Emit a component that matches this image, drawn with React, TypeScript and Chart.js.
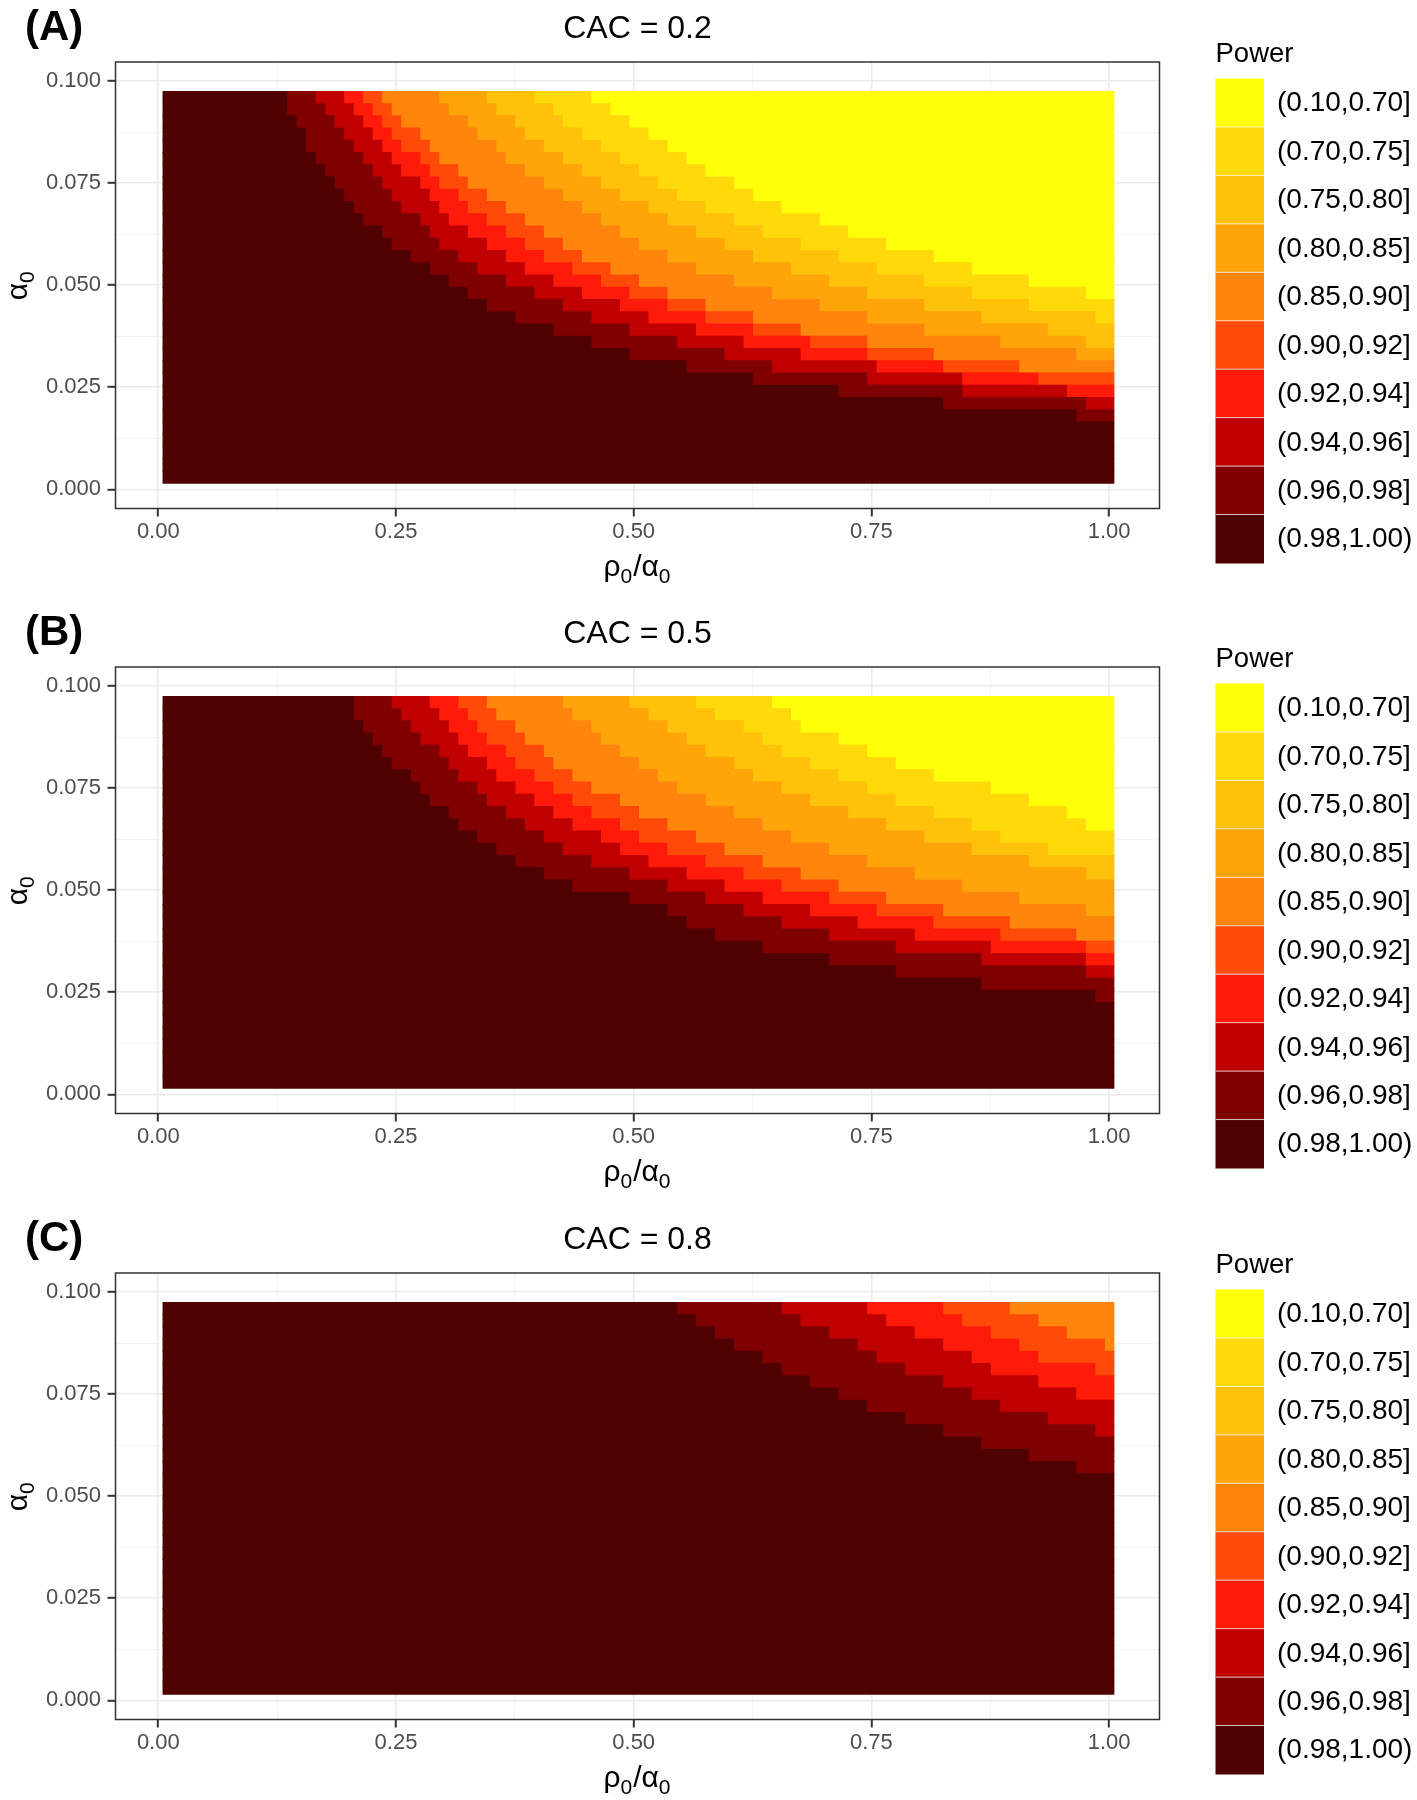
import React, { useEffect, useRef } from "react";
import { Chart, registerables } from "chart.js";

Chart.register(...registerables);

const FONT = "'Liberation Sans', Arial, Helvetica, sans-serif";

// x categories: rho0 / alpha0
const RHO_RATIO = [
  0.01, 0.02, 0.03, 0.04, 0.05, 0.06, 0.07, 0.08, 0.09, 0.1,
  0.11, 0.12, 0.13, 0.14, 0.15, 0.16, 0.17, 0.18, 0.19, 0.2,
  0.21, 0.22, 0.23, 0.24, 0.25, 0.26, 0.27, 0.28, 0.29, 0.3,
  0.31, 0.32, 0.33, 0.34, 0.35, 0.36, 0.37, 0.38, 0.39, 0.4,
  0.41, 0.42, 0.43, 0.44, 0.45, 0.46, 0.47, 0.48, 0.49, 0.5,
  0.51, 0.52, 0.53, 0.54, 0.55, 0.56, 0.57, 0.58, 0.59, 0.6,
  0.61, 0.62, 0.63, 0.64, 0.65, 0.66, 0.67, 0.68, 0.69, 0.7,
  0.71, 0.72, 0.73, 0.74, 0.75, 0.76, 0.77, 0.78, 0.79, 0.8,
  0.81, 0.82, 0.83, 0.84, 0.85, 0.86, 0.87, 0.88, 0.89, 0.9,
  0.91, 0.92, 0.93, 0.94, 0.95, 0.96, 0.97, 0.98, 0.99, 1.0,
];

// y categories: alpha0
const ALPHA0 = [
  0.003, 0.006, 0.009, 0.012, 0.015, 0.018, 0.021, 0.024, 0.027, 0.03,
  0.033, 0.036, 0.039, 0.042, 0.045, 0.048, 0.051, 0.054, 0.057, 0.06,
  0.063, 0.066, 0.069, 0.072, 0.075, 0.078, 0.081, 0.084, 0.087, 0.09,
  0.093, 0.096,
];

// Power classes, darkest (highest power) first
const POWER_BINS = [
  "(0.98,1.00)", "(0.96,0.98]", "(0.94,0.96]", "(0.92,0.94]", "(0.90,0.92]",
  "(0.85,0.90]", "(0.80,0.85]", "(0.75,0.80]", "(0.70,0.75]", "(0.10,0.70]",
];
const BIN_COLORS = [
  "#4F0000", "#800000", "#C00000", "#FF1A0A", "#FF4A08",
  "#FF850C", "#FFA50A", "#FFC10A", "#FFD90A", "#FFFF0A",
];

const X_TICKS = [0, 0.25, 0.5, 0.75, 1];
const X_TICK_LABELS = ["0.00", "0.25", "0.50", "0.75", "1.00"];
const X_MINOR = [0.125, 0.375, 0.625, 0.875];
const Y_TICKS = [0, 0.025, 0.05, 0.075, 0.1];
const Y_TICK_LABELS = ["0.000", "0.025", "0.050", "0.075", "0.100"];
const Y_MINOR = [0.0125, 0.0375, 0.0625, 0.0875];

// For each alpha0 row (bottom to top): number of x cells (from the left)
// whose power class is darker than class k, for k = 1..9
const EDGES_CAC02 = [
  [100, 100, 100, 100, 100, 100, 100, 100, 100],
  [100, 100, 100, 100, 100, 100, 100, 100, 100],
  [100, 100, 100, 100, 100, 100, 100, 100, 100],
  [100, 100, 100, 100, 100, 100, 100, 100, 100],
  [100, 100, 100, 100, 100, 100, 100, 100, 100],
  [96, 100, 100, 100, 100, 100, 100, 100, 100],
  [82, 97, 100, 100, 100, 100, 100, 100, 100],
  [71, 84, 95, 100, 100, 100, 100, 100, 100],
  [62, 74, 84, 92, 100, 100, 100, 100, 100],
  [55, 64, 75, 82, 90, 100, 100, 100, 100],
  [49, 59, 67, 74, 81, 96, 100, 100, 100],
  [45, 54, 61, 68, 74, 88, 97, 100, 100],
  [41, 49, 56, 62, 67, 80, 93, 100, 100],
  [37, 45, 51, 57, 62, 74, 86, 98, 100],
  [34, 42, 48, 53, 57, 69, 80, 91, 100],
  [32, 39, 44, 49, 53, 64, 74, 85, 97],
  [30, 36, 41, 46, 50, 60, 70, 80, 91],
  [28, 33, 38, 43, 47, 56, 66, 75, 85],
  [26, 31, 36, 40, 44, 53, 62, 71, 81],
  [24, 29, 34, 38, 42, 50, 59, 67, 76],
  [23, 28, 32, 36, 40, 48, 56, 63, 72],
  [21, 27, 30, 34, 38, 46, 53, 60, 69],
  [20, 25, 29, 32, 36, 44, 51, 57, 65],
  [19, 24, 28, 31, 34, 42, 48, 54, 62],
  [18, 23, 27, 29, 32, 40, 46, 52, 60],
  [17, 22, 25, 28, 31, 38, 44, 50, 57],
  [16, 21, 24, 27, 29, 36, 42, 48, 55],
  [15, 20, 23, 25, 28, 35, 40, 46, 53],
  [15, 19, 22, 24, 27, 33, 38, 44, 51],
  [14, 18, 21, 23, 25, 32, 37, 42, 49],
  [13, 17, 20, 22, 24, 30, 35, 41, 47],
  [13, 16, 19, 21, 23, 29, 34, 39, 45],
];

const EDGES_CAC05 = [
  [100, 100, 100, 100, 100, 100, 100, 100, 100],
  [100, 100, 100, 100, 100, 100, 100, 100, 100],
  [100, 100, 100, 100, 100, 100, 100, 100, 100],
  [100, 100, 100, 100, 100, 100, 100, 100, 100],
  [100, 100, 100, 100, 100, 100, 100, 100, 100],
  [100, 100, 100, 100, 100, 100, 100, 100, 100],
  [100, 100, 100, 100, 100, 100, 100, 100, 100],
  [98, 100, 100, 100, 100, 100, 100, 100, 100],
  [86, 100, 100, 100, 100, 100, 100, 100, 100],
  [77, 97, 100, 100, 100, 100, 100, 100, 100],
  [70, 86, 97, 100, 100, 100, 100, 100, 100],
  [63, 77, 87, 97, 100, 100, 100, 100, 100],
  [58, 70, 79, 88, 96, 100, 100, 100, 100],
  [55, 65, 73, 81, 89, 100, 100, 100, 100],
  [53, 61, 68, 75, 82, 97, 100, 100, 100],
  [49, 57, 63, 70, 76, 90, 100, 100, 100],
  [43, 53, 59, 65, 71, 84, 100, 100, 100],
  [40, 49, 55, 61, 67, 79, 97, 100, 100],
  [37, 45, 51, 57, 63, 74, 91, 100, 100],
  [35, 42, 48, 53, 59, 70, 85, 93, 100],
  [33, 40, 46, 50, 56, 66, 80, 88, 100],
  [31, 38, 43, 48, 53, 63, 76, 85, 97],
  [30, 36, 41, 45, 50, 60, 72, 81, 95],
  [28, 34, 39, 43, 48, 57, 68, 77, 91],
  [27, 33, 37, 41, 45, 54, 65, 74, 87],
  [26, 31, 35, 39, 43, 52, 62, 71, 81],
  [24, 30, 34, 37, 41, 50, 60, 68, 77],
  [23, 29, 32, 36, 40, 48, 57, 65, 74],
  [22, 27, 31, 34, 38, 46, 55, 63, 71],
  [21, 26, 30, 33, 37, 45, 53, 61, 67],
  [20, 25, 29, 32, 35, 43, 51, 58, 66],
  [20, 24, 28, 31, 34, 42, 49, 56, 64],
];

const EDGES_CAC08 = [
  [100, 100, 100, 100, 100, 100, 100, 100, 100],
  [100, 100, 100, 100, 100, 100, 100, 100, 100],
  [100, 100, 100, 100, 100, 100, 100, 100, 100],
  [100, 100, 100, 100, 100, 100, 100, 100, 100],
  [100, 100, 100, 100, 100, 100, 100, 100, 100],
  [100, 100, 100, 100, 100, 100, 100, 100, 100],
  [100, 100, 100, 100, 100, 100, 100, 100, 100],
  [100, 100, 100, 100, 100, 100, 100, 100, 100],
  [100, 100, 100, 100, 100, 100, 100, 100, 100],
  [100, 100, 100, 100, 100, 100, 100, 100, 100],
  [100, 100, 100, 100, 100, 100, 100, 100, 100],
  [100, 100, 100, 100, 100, 100, 100, 100, 100],
  [100, 100, 100, 100, 100, 100, 100, 100, 100],
  [100, 100, 100, 100, 100, 100, 100, 100, 100],
  [100, 100, 100, 100, 100, 100, 100, 100, 100],
  [100, 100, 100, 100, 100, 100, 100, 100, 100],
  [100, 100, 100, 100, 100, 100, 100, 100, 100],
  [100, 100, 100, 100, 100, 100, 100, 100, 100],
  [96, 100, 100, 100, 100, 100, 100, 100, 100],
  [91, 100, 100, 100, 100, 100, 100, 100, 100],
  [86, 100, 100, 100, 100, 100, 100, 100, 100],
  [82, 98, 100, 100, 100, 100, 100, 100, 100],
  [78, 93, 100, 100, 100, 100, 100, 100, 100],
  [74, 88, 100, 100, 100, 100, 100, 100, 100],
  [71, 85, 96, 100, 100, 100, 100, 100, 100],
  [68, 82, 92, 100, 100, 100, 100, 100, 100],
  [65, 78, 87, 98, 100, 100, 100, 100, 100],
  [63, 75, 85, 92, 100, 100, 100, 100, 100],
  [60, 73, 82, 90, 99, 100, 100, 100, 100],
  [58, 70, 79, 87, 95, 100, 100, 100, 100],
  [56, 67, 76, 84, 92, 100, 100, 100, 100],
  [54, 65, 74, 82, 89, 100, 100, 100, 100],
];

const PANEL_TAGS = ["(A)", "(B)", "(C)"];
const PANEL_TITLES = ["CAC = 0.2", "CAC = 0.5", "CAC = 0.8"];
const PANEL_EDGES = [EDGES_CAC02, EDGES_CAC05, EDGES_CAC08];

const W = 1417;
const CANVAS_TOPS = [0, 605, 1211];
const CANVAS_HEIGHTS = [605, 606, 589];
const PLOT_LEFT = 115.5;
const PLOT_RIGHT = 1159.5;
const PLOT_TOP = 62;
const PLOT_BOTTOM = 508.5;

const near = (a: number, b: number) => Math.abs(a - b) < 1e-9;

function buildDatasets(edges: number[][]) {
  const halfX = (RHO_RATIO[1] - RHO_RATIO[0]) / 2;
  const n = RHO_RATIO.length;
  return POWER_BINS.map((label, d) => {
    const data: any[] = [];
    edges.forEach((row, r) => {
      const start = d === 0 ? 0 : row[d - 1];
      const end = d === POWER_BINS.length - 1 ? n : row[d];
      if (end > start) {
        data.push({ y: ALPHA0[r], x: [RHO_RATIO[start] - halfX, RHO_RATIO[end - 1] + halfX] });
      }
    });
    return {
      label,
      data,
      backgroundColor: BIN_COLORS[d],
      borderWidth: 0,
      grouped: false,
      barPercentage: 1,
      categoryPercentage: 1,
      inflateAmount: 0.5,
    };
  });
}

function drawRun(ctx: CanvasRenderingContext2D, parts: { t: string; sub?: boolean }[], cx: number, baseY: number) {
  const big = `30px ${FONT}`;
  const small = `21px ${FONT}`;
  let total = 0;
  const widths = parts.map((p) => {
    ctx.font = p.sub ? small : big;
    const w = ctx.measureText(p.t).width + (p.sub ? 1 : 0);
    total += w;
    return w;
  });
  let x = cx - total / 2;
  ctx.textAlign = "left";
  ctx.textBaseline = "alphabetic";
  parts.forEach((p, i) => {
    ctx.font = p.sub ? small : big;
    ctx.fillText(p.t, x, p.sub ? baseY + 7 : baseY);
    x += widths[i];
  });
}

function makeDecor(idx: number) {
  return {
    id: "decor" + idx,
    afterDraw(chart: any) {
      const { ctx, chartArea: ca } = chart;
      ctx.save();
      ctx.strokeStyle = "#333333";
      ctx.lineWidth = 1.5;
      ctx.strokeRect(ca.left, ca.top, ca.right - ca.left, ca.bottom - ca.top);

      ctx.fillStyle = "#000000";
      ctx.textBaseline = "alphabetic";
      ctx.textAlign = "left";
      ctx.font = `bold 42px ${FONT}`;
      ctx.fillText(PANEL_TAGS[idx], 25, 40);

      ctx.font = `32px ${FONT}`;
      ctx.textAlign = "center";
      ctx.fillText(PANEL_TITLES[idx], (ca.left + ca.right) / 2, 37.5);

      // x axis title
      drawRun(ctx, [{ t: "ρ" }, { t: "0", sub: true }, { t: "/" }, { t: "α" }, { t: "0", sub: true }], (ca.left + ca.right) / 2, 576);

      // y axis title
      ctx.save();
      ctx.translate(0, (ca.top + ca.bottom) / 2);
      ctx.rotate(-Math.PI / 2);
      drawRun(ctx, [{ t: "α" }, { t: "0", sub: true }], 0, 27);
      ctx.restore();

      // legend
      const keyLeft = 1215.5;
      const keyW = 48.5;
      const keyTop = 78.5;
      const keyH = 48.45;
      ctx.fillStyle = "#000000";
      ctx.textAlign = "left";
      ctx.textBaseline = "alphabetic";
      ctx.font = `27.5px ${FONT}`;
      ctx.fillText("Power", keyLeft, 61.5);
      const order = POWER_BINS.map((_, i) => POWER_BINS.length - 1 - i);
      order.forEach((d, j) => {
        const y0 = keyTop + j * keyH;
        ctx.fillStyle = BIN_COLORS[d];
        ctx.fillRect(keyLeft, y0, keyW, keyH + 0.5);
      });
      ctx.strokeStyle = "rgba(255,255,255,0.75)";
      ctx.lineWidth = 1;
      for (let j = 1; j < POWER_BINS.length; j++) {
        const y = keyTop + j * keyH;
        ctx.beginPath();
        ctx.moveTo(keyLeft, y);
        ctx.lineTo(keyLeft + keyW, y);
        ctx.stroke();
      }
      ctx.fillStyle = "#000000";
      ctx.font = `28px ${FONT}`;
      ctx.textBaseline = "middle";
      order.forEach((d, j) => {
        const y0 = keyTop + j * keyH;
        ctx.fillText(POWER_BINS[d], 1277, y0 + keyH / 2 + 1);
      });
      ctx.restore();
    },
  };
}

function Panel({ idx }: { idx: number }) {
  const ref = useRef<HTMLCanvasElement | null>(null);
  useEffect(() => {
    if (!ref.current) return;
    const H = CANVAS_HEIGHTS[idx];
    const isMajorX = (v: number) => X_TICKS.some((t) => near(t, v));
    const isMajorY = (v: number) => Y_TICKS.some((t) => near(t, v));
    const chart = new Chart(ref.current, {
      type: "bar",
      data: { datasets: buildDatasets(PANEL_EDGES[idx]) as any },
      options: {
        indexAxis: "y",
        animation: false,
        responsive: false,
        devicePixelRatio: 1,
        events: [],
        layout: { padding: { left: 0, top: PLOT_TOP, right: W - PLOT_RIGHT, bottom: 0 } },
        plugins: { legend: { display: false }, tooltip: { enabled: false }, title: { display: false } },
        scales: {
          x: {
            type: "linear",
            position: "bottom",
            min: -0.045,
            max: 1.053,
            offset: false,
            afterBuildTicks: (s: any) => {
              s.ticks = [...X_TICKS, ...X_MINOR].sort((a, b) => a - b).map((v) => ({ value: v }));
            },
            afterFit: (s: any) => {
              s.height = H - PLOT_BOTTOM;
            },
            ticks: {
              autoSkip: false,
              maxRotation: 0,
              padding: 2,
              color: "#4D4D4D",
              font: { family: FONT, size: 22 },
              callback: (v: any) => {
                const i = X_TICKS.findIndex((t) => near(t, Number(v)));
                return i >= 0 ? X_TICK_LABELS[i] : "";
              },
            },
            grid: {
              offset: false,
              color: (c: any) => (isMajorX(c.tick.value) ? "#EBEBEB" : "#F3F3F3"),
              lineWidth: (c: any) => (isMajorX(c.tick.value) ? 1.6 : 0.9),
              drawTicks: true,
              tickLength: 8,
              tickWidth: 2,
              tickColor: (c: any) => (isMajorX(c.tick.value) ? "#333333" : "rgba(0,0,0,0)"),
            },
            border: { display: false },
          },
          y: {
            type: "linear",
            position: "left",
            min: -0.0047,
            max: 0.1047,
            offset: false,
            afterBuildTicks: (s: any) => {
              s.ticks = [...Y_TICKS, ...Y_MINOR].sort((a, b) => a - b).map((v) => ({ value: v }));
            },
            afterFit: (s: any) => {
              s.width = PLOT_LEFT;
            },
            ticks: {
              autoSkip: false,
              padding: 6.5,
              color: "#4D4D4D",
              font: { family: FONT, size: 22 },
              callback: (v: any) => {
                const i = Y_TICKS.findIndex((t) => near(t, Number(v)));
                return i >= 0 ? Y_TICK_LABELS[i] : "";
              },
            },
            grid: {
              offset: false,
              color: (c: any) => (isMajorY(c.tick.value) ? "#EBEBEB" : "#F3F3F3"),
              lineWidth: (c: any) => (isMajorY(c.tick.value) ? 1.6 : 0.9),
              drawTicks: true,
              tickLength: 8,
              tickWidth: 2,
              tickColor: (c: any) => (isMajorY(c.tick.value) ? "#333333" : "rgba(0,0,0,0)"),
            },
            border: { display: false },
          },
        },
      } as any,
      plugins: [makeDecor(idx)],
    });
    return () => chart.destroy();
  }, [idx]);
  const H = CANVAS_HEIGHTS[idx];
  return (
    <canvas
      ref={ref}
      width={W}
      height={H}
      style={{ position: "absolute", left: 0, top: CANVAS_TOPS[idx], width: W, height: H, display: "block" }}
    />
  );
}

export default function App() {
  return (
    <div style={{ position: "absolute", left: 0, top: 0, width: W, height: 1800, background: "#FFFFFF" }}>
      {[0, 1, 2].map((i) => (
        <Panel key={i} idx={i} />
      ))}
    </div>
  );
}
